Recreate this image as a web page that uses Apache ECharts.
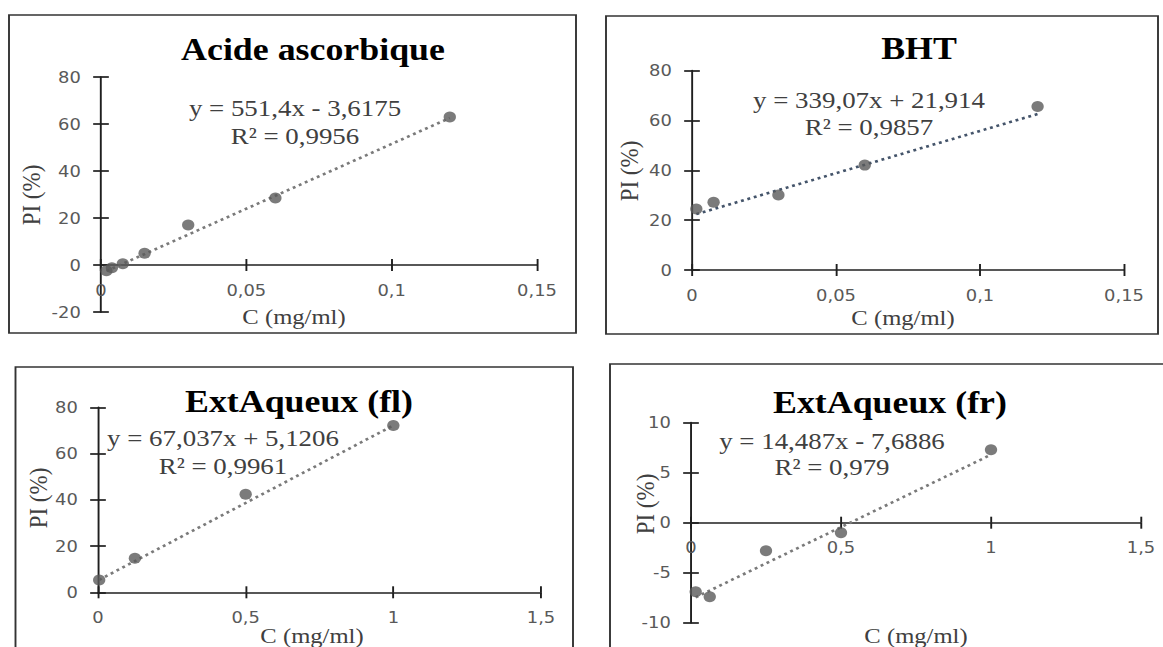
<!DOCTYPE html>
<html>
<head>
<meta charset="utf-8">
<script src="https://cdn.jsdelivr.net/npm/echarts@6/dist/echarts.min.js"></script>
<style>
  html, body { margin: 0; padding: 0; background: #fff; overflow: hidden; width: 1163px; height: 647px; }
  #chart { width: 1039px; height: 647px; transform: scaleX(1.12); transform-origin: 0 0; }
</style>
</head>
<body>
<div id="chart"></div>
<script>
// Inhibition percentage (PI) against concentration, four calibration panels
const titles = ['Acide ascorbique', 'BHT', 'ExtAqueux (fl)', 'ExtAqueux (fr)'];

// concentration (mg/ml) and PI (%) of each panel
const concAscorbique = [0.12, 0.06, 0.03, 0.015, 0.0075, 0.00375, 0.001875];
const piAscorbique   = [63.0, 28.5, 17.0, 5.0, 0.5, -1.2, -2.4];
const concBHT = [0.12, 0.06, 0.03, 0.0075, 0.0015];
const piBHT   = [65.6, 42.1, 30.1, 27.2, 24.5];
const concFl = [1, 0.5, 0.125, 0.004];
const piFl   = [72.1, 42.4, 14.7, 5.3];
const concFr = [1, 0.5, 0.25, 0.0625, 0.0156];
const piFr   = [7.3, -1.0, -2.8, -7.4, -6.9];

// linear trendlines: slope, intercept and R²
const slopes     = [551.4, 339.07, 67.037, 14.487];
const intercepts = [-3.6175, 21.914, 5.1206, -7.6886];
const r2         = [0.9956, 0.9857, 0.9961, 0.979];

// axis ranges and tick steps
const xMax  = [0.15, 0.15, 1.5, 1.5];
const xStep = [0.05, 0.05, 0.5, 0.5];
const yMin  = [-20, 0, 0, -10];
const yMax  = [80, 80, 80, 10];
const yStep = [20, 20, 20, 5];

const xName = 'C (mg/ml)';
const yName = 'PI (%)';

const concs = [concAscorbique, concBHT, concFl, concFr];
const pis   = [piAscorbique, piBHT, piFl, piFr];

// ---- layout (page pixels; the drawing is stretched horizontally by SX) ----
const SX = 1.12;
const layout = [
  { frame: [9, 15, 576, 333],     plot: [101, 77, 537, 312],       title: [313, 49],   eq: [295, 108, 136], yn: [31, 195],  xn: [294, 316] },
  { frame: [606, 16, 1158, 334],  plot: [692, 70.7, 1124, 270],    title: [919, 48.5], eq: [869, 100, 127], yn: [629, 171], xn: [903, 317.5] },
  { frame: [15.5, 367, 573, 700], plot: [98, 407.3, 541, 592.3],   title: [299, 401],  eq: [223, 438, 466], yn: [38, 498],  xn: [312, 635] },
  { frame: [610, 364, 1220, 700], plot: [691, 422.7, 1141, 622.7], title: [890, 402],  eq: [832, 441, 467], yn: [645, 504], xn: [916, 635] }
];
const trendColors = ['#7a7a7a', '#44546a', '#7a7a7a', '#7a7a7a'];

const AXIS = '#1f1f1f';
const LABEL = '#595959';
const TEXT = '#404040';
const SANS = '"DejaVu Sans", Verdana, sans-serif';
const SERIF = '"Liberation Serif", "Times New Roman", serif';

const fmt = v => String(v).replace('.', ',');
const tickFmt = v => String(Math.round(v * 10000) / 10000).replace('.', ',');

const grids = [], xAxes = [], yAxes = [], series = [], graphics = [];

function text(str, x, y, font, fill, rotation) {
  return {
    type: 'text', x: x / SX, y: y, rotation: rotation || 0, silent: true, z: 10,
    style: { text: str, font: font, fill: fill,
             align: 'center', verticalAlign: 'middle',
             textAlign: 'center', textVerticalAlign: 'middle' }
  };
}

layout.forEach((L, i) => {
  const [x0, y0, x1, y1] = L.plot;
  const left = x0 / SX, width = (x1 - x0) / SX, height = y1 - y0;
  const lineStyle = { color: AXIS, width: 1.7 };

  // main plotting grid
  const g = grids.length;
  grids.push({ left: left, top: y0, width: width, height: height });
  const xBase = { gridIndex: g, type: 'value', min: 0, max: xMax[i], interval: xStep[i], splitLine: { show: false } };
  const yBase = { gridIndex: g, type: 'value', min: yMin[i], max: yMax[i], interval: yStep[i], splitLine: { show: false } };

  const xi = xAxes.length;
  // x axis on the zero line, ticks below
  xAxes.push(Object.assign({}, xBase, {
    position: 'bottom',
    axisLine: { show: true, onZero: true, lineStyle: lineStyle },
    axisTick: { show: true, length: 6, lineStyle: lineStyle },
    axisLabel: { show: false }
  }));
  // twin x axis: ticks above the same line (cross ticks)
  xAxes.push(Object.assign({}, xBase, {
    position: 'top',
    axisLine: { show: false, onZero: true },
    axisTick: { show: true, length: 6, lineStyle: lineStyle },
    axisLabel: { show: false }
  }));

  const yi = yAxes.length;
  yAxes.push(Object.assign({}, yBase, {
    position: 'left',
    axisLine: { show: true, onZero: true, lineStyle: lineStyle },
    axisTick: { show: true, length: 7, lineStyle: lineStyle },
    axisLabel: { show: true, margin: 18, fontSize: 16, fontFamily: SANS, color: LABEL, formatter: tickFmt }
  }));
  yAxes.push(Object.assign({}, yBase, {
    position: 'right',
    axisLine: { show: false, onZero: true },
    axisTick: { show: true, length: 7, lineStyle: lineStyle },
    axisLabel: { show: false }
  }));

  // thin grid whose lower edge sits on y = 0: carries the x tick labels
  const zeroY = y0 + height * yMax[i] / (yMax[i] - yMin[i]);
  const gl = grids.length;
  grids.push({ left: left, top: zeroY - 10, width: width, height: 10 });
  xAxes.push({
    gridIndex: gl, type: 'value', min: 0, max: xMax[i], interval: xStep[i], position: 'bottom',
    axisLine: { show: false }, axisTick: { show: false }, splitLine: { show: false },
    axisLabel: { show: true, margin: 17, fontSize: 16, fontFamily: SANS, color: LABEL, formatter: tickFmt }
  });
  yAxes.push({ gridIndex: gl, type: 'value', show: false, min: 0, max: 1 });

  // trendline over the measured concentration range
  const lo = Math.min.apply(null, concs[i]);
  const hi = Math.max.apply(null, concs[i]);
  const a = slopes[i], b = intercepts[i];
  series.push({
    type: 'line', xAxisIndex: xi, yAxisIndex: yi, z: 2, silent: true,
    symbol: 'none', showSymbol: false,
    data: [[lo, a * lo + b], [hi, a * hi + b]],
    lineStyle: { color: trendColors[i], width: 2.6, type: [2.6, 3.4] }
  });
  // measured points
  series.push({
    type: 'scatter', xAxisIndex: xi, yAxisIndex: yi, z: 3,
    symbol: 'circle', symbolSize: 11,
    itemStyle: { color: '#5a5a5a' },
    data: concs[i].map((c, k) => [c, pis[i][k]])
  });

  // panel frame
  const [fx0, fy0, fx1, fy1] = L.frame;
  graphics.push({
    type: 'rect', silent: true, z: 0,
    shape: { x: fx0 / SX, y: fy0, width: (fx1 - fx0) / SX, height: fy1 - fy0 },
    style: { fill: 'none', stroke: '#333333', lineWidth: 1.7 }
  });

  // texts
  graphics.push(text(titles[i], L.title[0], L.title[1], 'bold 32px ' + SERIF, '#000000'));
  const eq = 'y = ' + fmt(a) + 'x ' + (b < 0 ? '-' : '+') + ' ' + fmt(Math.abs(b));
  graphics.push(text(eq, L.eq[0], L.eq[1], '24px ' + SERIF, TEXT));
  graphics.push(text('R² = ' + fmt(r2[i]), L.eq[0], L.eq[2], '24px ' + SERIF, TEXT));
  graphics.push(text(yName, L.yn[0], L.yn[1], '23px ' + SERIF, TEXT, Math.PI / 2));
  graphics.push(text(xName, L.xn[0], L.xn[1], '22px ' + SERIF, TEXT));
});

const chart = echarts.init(document.getElementById('chart'), null, { renderer: 'svg' });
chart.setOption({
  animation: false,
  backgroundColor: '#ffffff',
  grid: grids,
  xAxis: xAxes,
  yAxis: yAxes,
  series: series,
  graphic: graphics
});
</script>
</body>
</html>
